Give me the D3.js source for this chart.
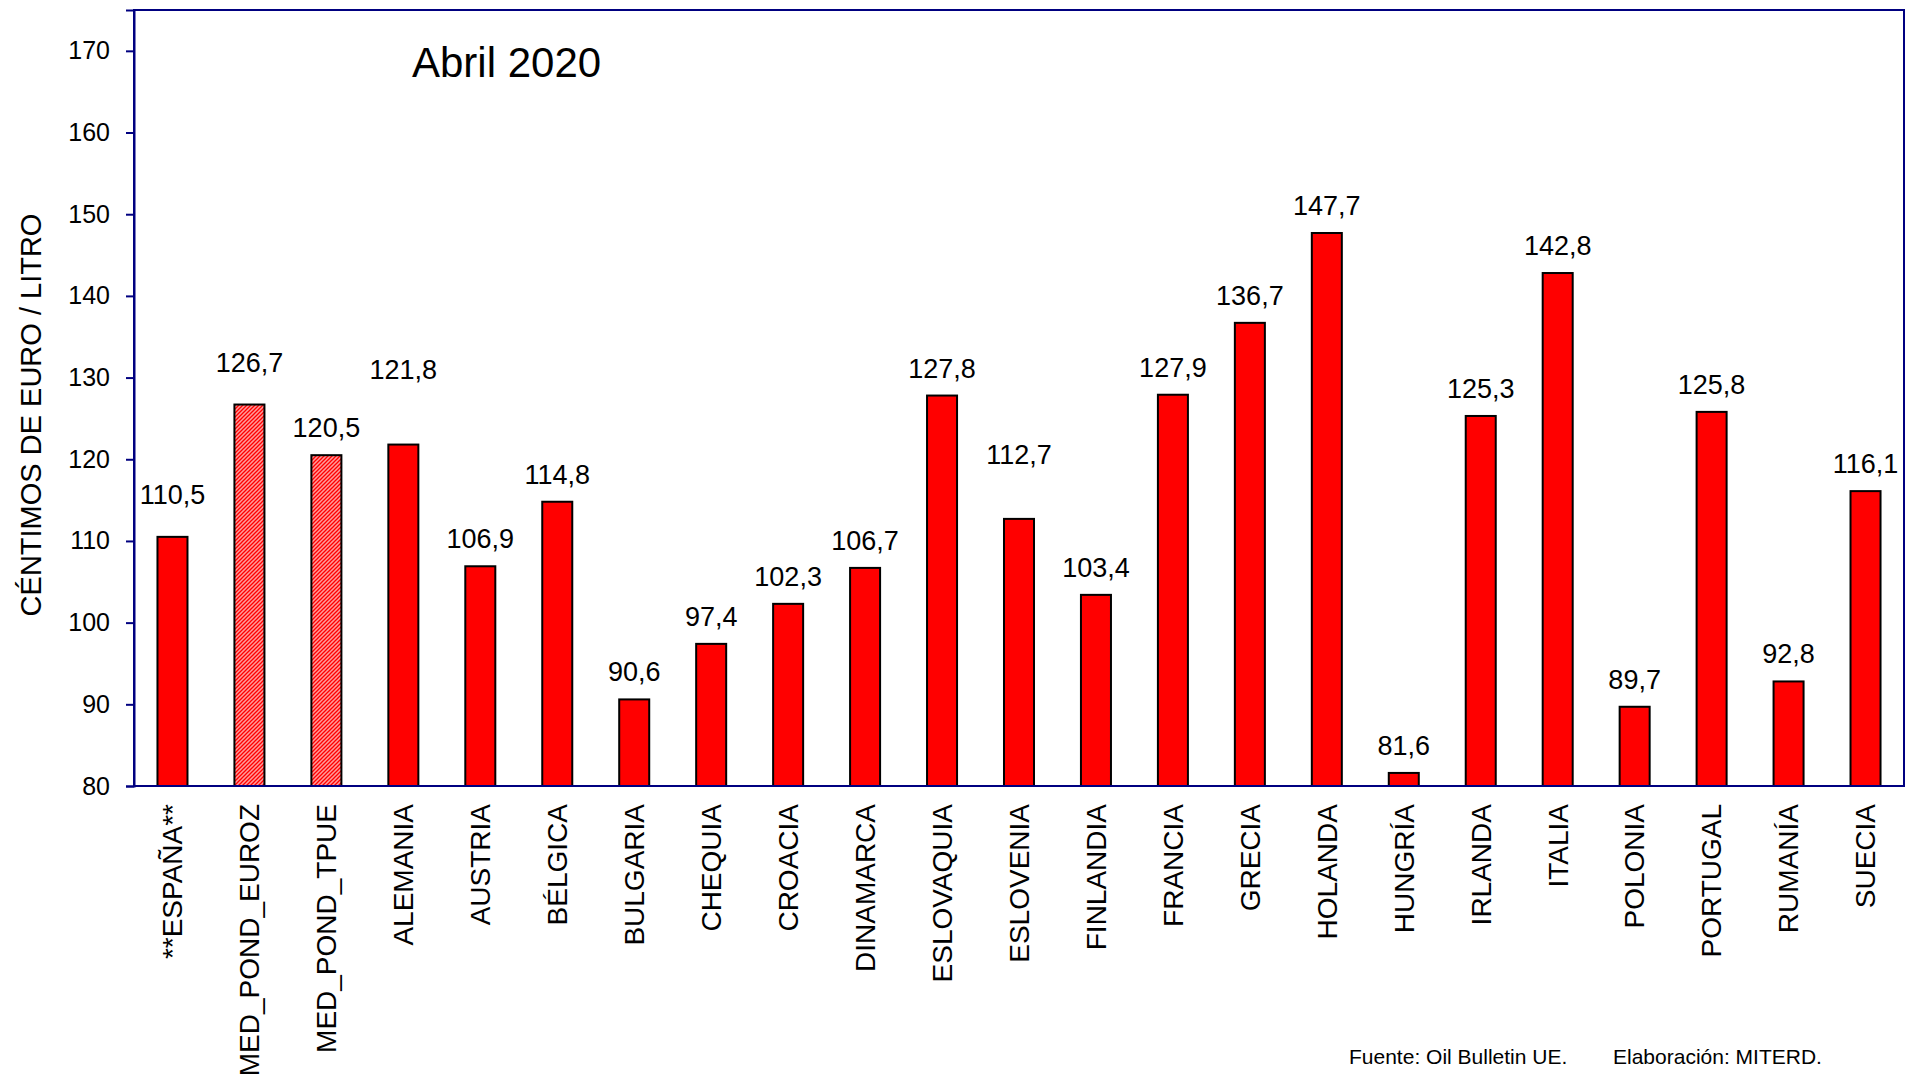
<!DOCTYPE html>
<html>
<head>
<meta charset="utf-8">
<script src="https://d3js.org/d3.v7.min.js"></script>
<style>
  body { margin: 0; background: #fff; }
  svg { display: block; font-family: "Liberation Sans", Arial, sans-serif; }
</style>
</head>
<body>
<div id="chart"></div>
<script>
const categories = ["**ESPAÑA**", "MED_POND_EUROZ", "MED_POND_TPUE", "ALEMANIA", "AUSTRIA", "BÉLGICA",
  "BULGARIA", "CHEQUIA", "CROACIA", "DINAMARCA", "ESLOVAQUIA", "ESLOVENIA", "FINLANDIA", "FRANCIA",
  "GRECIA", "HOLANDA", "HUNGRÍA", "IRLANDA", "ITALIA", "POLONIA", "PORTUGAL", "RUMANÍA", "SUECIA"];
const prices = [110.5, 126.7, 120.5, 121.8, 106.9, 114.8, 90.6, 97.4, 102.3, 106.7, 127.8, 112.7,
  103.4, 127.9, 136.7, 147.7, 81.6, 125.3, 142.8, 89.7, 125.8, 92.8, 116.1];
const averages = ["MED_POND_EUROZ", "MED_POND_TPUE"];
const yTicks = [80, 90, 100, 110, 120, 130, 140, 150, 160, 170];

// labels that were moved up by hand in the original (extra px)
const labelLift = {"**ESPAÑA**": 15, "MED_POND_EUROZ": 15, "ALEMANIA": 48, "ESLOVENIA": 37};

const data = categories.map((c, i) => ({cat: c, value: prices[i]}));

const svgWidth = 1905, svgHeight = 1077;
const margin = {top: 10, right: 1, bottom: 291, left: 134},
      width = svgWidth - margin.left - margin.right,
      height = svgHeight - margin.top - margin.bottom;

const svg = d3.select("#chart").append("svg")
    .attr("width", svgWidth)
    .attr("height", svgHeight);

// hatch for the weighted averages
const pat = svg.append("defs").append("pattern")
    .attr("id", "hatch")
    .attr("patternUnits", "userSpaceOnUse")
    .attr("width", 4).attr("height", 4);
pat.append("rect").attr("width", 4).attr("height", 4).attr("fill", "#ff9c9c");
pat.append("path")
    .attr("d", "M-1,1 l2,-2 M0,4 l4,-4 M3,5 l2,-2")
    .attr("stroke", "#ff0000")
    .attr("stroke-width", 1.3);

const g = svg.append("g")
    .attr("transform", "translate(" + margin.left + "," + margin.top + ")");

const x = d3.scaleBand()
    .domain(categories)
    .range([0, width])
    .paddingInner(0.61)
    .paddingOuter(0.305);

const y = d3.scaleLinear()
    .domain([80, 175])
    .range([height, 0]);

const fmt = v => d3.format(".1f")(v).replace(".", ",");

// bars
g.append("g")
    .selectAll("rect")
    .data(data)
    .join("rect")
        .attr("x", d => x(d.cat))
        .attr("y", d => y(d.value))
        .attr("width", x.bandwidth())
        .attr("height", d => y(80) - y(d.value))
        .attr("fill", d => averages.includes(d.cat) ? "url(#hatch)" : "#ff0000")
        .attr("stroke", "#000")
        .attr("stroke-width", 2);

// value labels
g.append("g")
    .selectAll("text")
    .data(data)
    .join("text")
        .attr("x", d => x(d.cat) + x.bandwidth() / 2)
        .attr("y", d => y(d.value) - 18 - (labelLift[d.cat] || 0))
        .attr("text-anchor", "middle")
        .attr("font-size", 27)
        .attr("fill", "#000")
        .text(d => fmt(d.value));

// frame
g.append("rect")
    .attr("width", width)
    .attr("height", height)
    .attr("fill", "none")
    .attr("stroke", "#000080")
    .attr("stroke-width", 2);

// Y axis
const yAxis = g.append("g")
    .call(d3.axisLeft(y).tickValues(yTicks).tickSize(8).tickPadding(16).tickFormat(d3.format("d")));
yAxis.select(".domain").attr("stroke", "#000080").attr("stroke-width", 2);
yAxis.selectAll(".tick line").attr("stroke", "#000080").attr("stroke-width", 2);
yAxis.selectAll(".tick text")
    .attr("font-size", 25)
    .attr("font-family", "Liberation Sans, Arial, sans-serif")
    .attr("fill", "#000");

// category labels
g.append("g")
    .selectAll("text")
    .data(categories)
    .join("text")
        .attr("transform", d => "translate(" + (x(d) + x.bandwidth() / 2) + "," + (height + 18) + ") rotate(-90)")
        .attr("dy", "0.35em")
        .attr("text-anchor", "end")
        .attr("font-size", 28)
        .attr("fill", "#000")
        .text(d => d);

// axis title
svg.append("text")
    .attr("transform", "translate(41,415) rotate(-90)")
    .attr("text-anchor", "middle")
    .attr("font-size", 29)
    .attr("fill", "#000")
    .text("CÉNTIMOS DE EURO / LITRO");

// chart title
svg.append("text")
    .attr("x", 412)
    .attr("y", 77)
    .attr("font-size", 42)
    .attr("fill", "#000")
    .text("Abril 2020");

// source
svg.append("text")
    .attr("x", 1349)
    .attr("y", 1064)
    .attr("font-size", 21)
    .attr("fill", "#000")
    .text("Fuente: Oil Bulletin UE.");
svg.append("text")
    .attr("x", 1613)
    .attr("y", 1064)
    .attr("font-size", 21)
    .attr("fill", "#000")
    .text("Elaboración: MITERD.");
</script>
</body>
</html>
